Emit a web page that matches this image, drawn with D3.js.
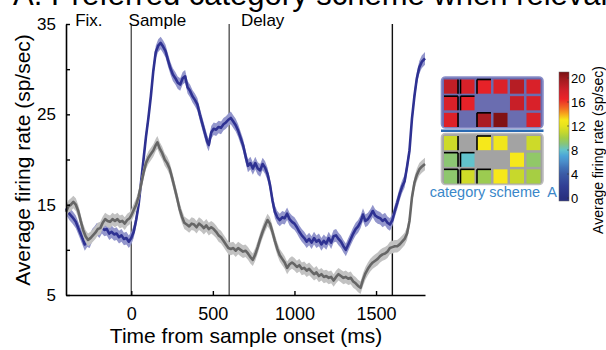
<!DOCTYPE html>
<html><head><meta charset="utf-8">
<script src="https://cdn.jsdelivr.net/npm/d3@7"></script>
<style>
body{margin:0;background:#fff;}
svg{display:block;font-family:"Liberation Sans",Arial,Helvetica,sans-serif;}
</style></head>
<body><svg id="c" width="606" height="350"></svg>
<script>
// ---------- data ----------
const titleText = "A: Preferred category scheme when relevant";
const epochLabels = [{name:"Fix.", t:-260},{name:"Sample", t:160},{name:"Delay", t:805}];
const eventTimes = [0, 600, 1600];
const xTicks = [0, 500, 1000, 1500];
const yTicks = [5, 10, 15, 20, 25, 30, 35];
const yLabeled = [5, 15, 25, 35];
const bluePts = [[-400,14.6],[-380,14.0],[-360,13.6],[-340,13.1],[-320,12.2],[-300,11.3],[-285,10.6],[-270,11.0],[-255,10.9],[-240,11.6],[-225,11.9],[-210,12.3],[-195,12.0],[-180,12.5],[-165,12.2],[-150,12.3],[-135,11.8],[-120,12.0],[-105,11.7],[-90,11.8],[-75,11.4],[-60,11.6],[-45,11.2],[-30,11.3],[-15,10.9],[0,11.3],[15,12.0],[30,13.3],[45,15.0],[60,17.5],[75,20.0],[90,22.5],[105,24.6],[120,27.0],[135,29.8],[150,31.9],[165,32.6],[180,32.9],[195,32.5],[210,32.0],[225,31.0],[240,30.1],[255,29.4],[270,29.0],[285,28.5],[300,28.3],[315,29.0],[330,29.2],[345,28.0],[360,27.6],[375,27.0],[390,26.6],[405,26.1],[420,25.0],[435,24.0],[450,23.0],[465,22.0],[475,21.6],[490,23.0],[505,23.4],[520,23.3],[535,23.6],[550,23.5],[565,23.9],[580,24.1],[595,24.4],[610,24.6],[625,24.2],[640,23.8],[655,23.2],[670,22.4],[685,21.6],[700,20.4],[715,19.3],[730,19.6],[745,19.0],[760,19.6],[775,19.0],[790,18.8],[805,19.5],[820,19.1],[835,18.4],[850,17.2],[865,15.5],[880,14.2],[895,13.6],[910,13.3],[925,13.6],[940,13.5],[955,14.0],[970,13.4],[985,13.1],[1000,12.9],[1015,12.5],[1030,12.0],[1045,11.6],[1060,11.3],[1075,10.9],[1090,11.2],[1105,10.8],[1120,11.3],[1135,10.9],[1150,11.1],[1165,10.6],[1180,11.0],[1195,10.7],[1210,11.3],[1225,10.8],[1240,11.5],[1255,11.6],[1270,11.2],[1285,10.9],[1300,10.4],[1315,10.0],[1330,10.6],[1345,11.2],[1360,11.8],[1375,12.3],[1390,12.6],[1405,13.1],[1420,13.9],[1435,13.2],[1450,13.4],[1465,13.8],[1480,14.3],[1495,13.8],[1510,13.6],[1525,13.5],[1540,13.2],[1555,13.4],[1570,13.0],[1585,12.8],[1600,13.3],[1615,14.3],[1630,15.2],[1645,16.2],[1660,17.0],[1675,17.6],[1690,19.2],[1705,21.0],[1720,24.5],[1735,27.0],[1750,29.0],[1765,30.2],[1780,30.8],[1800,31.2]];
const grayPts = [[-400,14.2],[-385,14.8],[-370,15.0],[-355,15.3],[-340,15.0],[-325,14.3],[-310,13.2],[-295,12.2],[-280,11.5],[-265,11.1],[-250,11.3],[-235,11.6],[-220,11.9],[-205,12.3],[-190,12.4],[-175,13.0],[-160,13.4],[-145,13.2],[-130,13.1],[-115,13.4],[-100,13.2],[-85,13.4],[-70,13.1],[-55,13.2],[-40,12.9],[-25,13.3],[-10,13.5],[0,13.8],[15,14.4],[30,15.0],[45,15.9],[60,17.2],[75,18.5],[90,19.6],[105,20.2],[120,20.6],[135,21.0],[150,21.6],[160,21.9],[175,21.2],[190,20.7],[205,20.0],[220,19.6],[235,19.0],[250,18.0],[265,16.9],[280,15.8],[295,14.6],[310,13.7],[325,13.0],[340,12.8],[355,12.6],[370,12.9],[385,12.8],[400,12.5],[415,12.9],[430,12.7],[445,12.4],[460,12.7],[475,12.3],[490,12.5],[505,12.3],[520,12.0],[535,11.6],[550,11.4],[565,11.0],[580,10.6],[595,10.2],[610,10.1],[625,10.2],[640,9.9],[655,10.2],[670,10.0],[685,9.8],[700,9.9],[715,9.6],[730,9.2],[745,8.9],[760,9.5],[775,10.3],[790,11.2],[805,12.0],[820,12.7],[835,13.3],[850,12.9],[865,12.0],[880,11.0],[895,10.1],[910,9.4],[925,9.0],[940,8.6],[955,8.0],[970,8.4],[985,8.6],[1000,8.4],[1015,8.1],[1030,8.3],[1045,7.9],[1060,8.0],[1075,7.7],[1090,7.9],[1105,7.6],[1120,7.3],[1135,7.5],[1150,7.1],[1165,7.3],[1180,7.0],[1195,7.1],[1210,6.9],[1225,7.0],[1240,6.6],[1255,7.0],[1270,7.3],[1285,7.1],[1300,6.9],[1315,7.0],[1330,6.8],[1345,6.9],[1360,6.5],[1375,6.3],[1390,6.0],[1405,5.8],[1420,6.7],[1435,7.4],[1450,7.9],[1465,8.3],[1480,8.6],[1495,8.8],[1510,9.0],[1525,9.3],[1540,9.5],[1555,9.6],[1570,9.8],[1585,10.2],[1600,10.3],[1615,10.4],[1630,10.4],[1645,10.6],[1660,10.9],[1675,11.2],[1690,11.8],[1705,13.2],[1720,15.8],[1735,17.4],[1750,18.3],[1765,18.9],[1780,19.2],[1800,19.5]];
const semBlue = 0.7, semGray = 0.7;
// inset heat maps (null = no cell)
const topGrid = [[18.6,17.6,16.8,17.4,19.0,17.5],[17.5,16.8,null,null,18.3,17.5],[17.3,null,19.4,20.8,null,17.5]];
const botGrid = [[11.2,null,13.0,12.6,null,11.2],[9.2,8.0,null,null,13.0,9.4],[9.3,11.3,9.8,13.0,11.0,10.1]];
const topEdges = [[0,0,"r"],[0,1,"l"],[0,2,"t"],[0,2,"l"],[1,0,"t"],[1,0,"r"],[1,1,"t"],[1,1,"l"],[2,0,"r"],[2,2,"t"],[2,2,"l"]];
const botEdges = [[0,0,"r"],[0,2,"t"],[0,2,"l"],[1,0,"t"],[1,0,"r"],[1,1,"t"],[1,1,"l"],[2,0,"t"],[2,0,"r"],[2,1,"t"],[2,1,"l"],[2,2,"t"],[2,2,"l"]];
const cbTicks = [0, 4, 8, 12, 16, 20];
const cmapVals = [0,2,4,5,6,7,8,9,10,11,12,13,14,15,16.5,18,20,21];
const cmapCols = ["#283080","#313f94","#3a5ba6","#4070b6","#4a8cc9","#4ba4d8","#62c3cc","#86c47e","#a2cd46","#c7d82c","#e6e31e","#f6e81b","#f7a81c","#f26b22","#ec2328","#d0202a","#9b1a1e","#7a1012"];

// ---------- drawing ----------
const svg = d3.select("#c");
const x = d3.scaleLinear().domain([-400, 1800]).range([66, 425]);
const y = d3.scaleLinear().domain([5, 35]).range([295, 24]);
const cmap = d3.scaleLinear().domain(cmapVals).range(cmapCols).clamp(true);

svg.append("text").attr("x", 13).attr("y", 5).attr("font-size", 31).attr("fill", "#000").text(titleText);

// event lines
svg.selectAll("line.ev").data(eventTimes).join("line")
  .attr("x1", d => x(d)).attr("x2", d => x(d)).attr("y1", y(35)).attr("y2", y(5))
  .attr("stroke", (d,i) => i === 2 ? "#111" : "#555").attr("stroke-width", 1.4);

svg.selectAll("text.ep").data(epochLabels).join("text")
  .attr("x", d => x(d.t)).attr("y", 26).attr("text-anchor", "middle").attr("font-size", 17).text(d => d.name);

function drawSeries(pts, sem, band, lineCol){
  const area = d3.area().x(d => x(d[0])).y0(d => y(d[1] - sem)).y1(d => y(d[1] + sem)).curve(d3.curveLinear);
  const line = d3.line().x(d => x(d[0])).y(d => y(d[1]));
  svg.append("path").datum(pts).attr("d", area).attr("fill", band).attr("stroke", "none");
  svg.append("path").datum(pts).attr("d", line).attr("fill", "none").attr("stroke", lineCol)
    .attr("stroke-width", 2.6).attr("stroke-linejoin", "round");
}
drawSeries(bluePts, semBlue, "#9396cc", "#2e3192");
drawSeries(grayPts, semGray, "#c2c2c2", "#666666");

// axes
const yAx = svg.append("g").attr("transform", "translate(66,0)")
  .call(d3.axisLeft(y).tickValues(yTicks).tickFormat(d => yLabeled.includes(d) ? d : "")
    .tickSizeInner(-4).tickSizeOuter(0).tickPadding(10));
const xAx = svg.append("g").attr("transform", "translate(0,295)")
  .call(d3.axisBottom(x).tickValues(xTicks).tickFormat(d3.format("d"))
    .tickSizeInner(-4).tickSizeOuter(0).tickPadding(12));
[yAx, xAx].forEach(g => {
  g.select(".domain").attr("stroke", "#000").attr("stroke-width", 1.6);
  g.selectAll(".tick line").attr("stroke", "#000").attr("stroke-width", 1.4);
  g.selectAll(".tick text").attr("fill", "#000").attr("font-family", "Liberation Sans,Arial,sans-serif");
});
yAx.selectAll(".tick text").attr("font-size", 17);
xAx.selectAll(".tick text").attr("font-size", 18);

svg.append("text").attr("transform", "translate(30,160) rotate(-90)").attr("text-anchor", "middle")
  .attr("font-size", 21).text("Average firing rate (sp/sec)");
svg.append("text").attr("x", 246).attr("y", 343).attr("text-anchor", "middle")
  .attr("font-size", 21).text("Time from sample onset (ms)");

// ---------- inset ----------
const col = d3.scaleBand().domain(d3.range(6)).range([444, 540.5]).paddingInner(0.15);
function drawPanel(grid, edges, top, fill, stroke){
  const row = d3.scaleBand().domain(d3.range(3)).range([top + 2.5, top + 2.5 + 47.5]).paddingInner(0.15);
  svg.append("rect").attr("x", 441.5).attr("y", top).attr("width", 101.5).attr("height", 51)
    .attr("rx", 4).attr("fill", fill).attr("stroke", stroke).attr("stroke-width", 1.6);
  const cells = [];
  grid.forEach((r, ri) => r.forEach((v, ci) => { if (v !== null) cells.push({ri, ci, v}); }));
  svg.append("g").selectAll("rect").data(cells).join("rect")
    .attr("x", d => col(d.ci)).attr("y", d => row(d.ri))
    .attr("width", col.bandwidth()).attr("height", row.bandwidth())
    .attr("fill", d => cmap(d.v));
  svg.append("g").selectAll("line").data(edges).join("line")
    .attr("x1", d => d[2] === "r" ? col(d[1]) + col.bandwidth() : col(d[1]))
    .attr("x2", d => d[2] === "l" ? col(d[1]) : col(d[1]) + col.bandwidth())
    .attr("y1", d => row(d[0]))
    .attr("y2", d => d[2] === "t" ? row(d[0]) : row(d[0]) + row.bandwidth())
    .attr("stroke", "#000").attr("stroke-width", 1.6);
}
drawPanel(topGrid, topEdges, 77, "#6a6db0", "#8a8ec8");
svg.append("line").attr("x1", 441).attr("x2", 543.5).attr("y1", 130.8).attr("y2", 130.8)
  .attr("stroke", "#2a6ab3").attr("stroke-width", 2.6);
drawPanel(botGrid, botEdges, 133.5, "#a3a3a3", "#bdbdbd");
svg.append("text").attr("x", 557).attr("y", 197).attr("text-anchor", "end").attr("font-size", 14.5)
  .attr("fill", "#3a87c9").attr("xml:space", "preserve").text("category scheme  A");

// colorbar
const cy = d3.scaleLinear().domain([0, 21]).range([198, 72]);
const defs = svg.append("defs");
const grad = defs.append("linearGradient").attr("id", "cbg").attr("x1", 0).attr("x2", 0).attr("y1", 1).attr("y2", 0);
const lo = -0.5, hi = 21;
cmapVals.forEach((v, i) => grad.append("stop").attr("offset", (v - lo) / (hi - lo)).attr("stop-color", cmapCols[i]));
grad.insert("stop", ":first-child").attr("offset", 0).attr("stop-color", cmapCols[0]);
svg.append("rect").attr("x", 559).attr("y", cy(hi)).attr("width", 10).attr("height", cy(lo) - cy(hi))
  .attr("fill", "url(#cbg)").attr("stroke", "#666").attr("stroke-width", 0.5);
svg.selectAll("text.cb").data(cbTicks).join("text").attr("x", 571).attr("y", d => cy(d) + 4.5)
  .attr("font-size", 13).text(d => d);
svg.selectAll("line.cbt").data(cbTicks).join("line").attr("x1", 567).attr("x2", 569)
  .attr("y1", d => cy(d)).attr("y2", d => cy(d)).attr("stroke", "#333").attr("stroke-width", 0.6);
svg.append("text").attr("transform", "translate(603,150) rotate(-90)").attr("text-anchor", "middle")
  .attr("font-size", 14).text("Average firing rate (sp/sec)");
</script></body></html>
